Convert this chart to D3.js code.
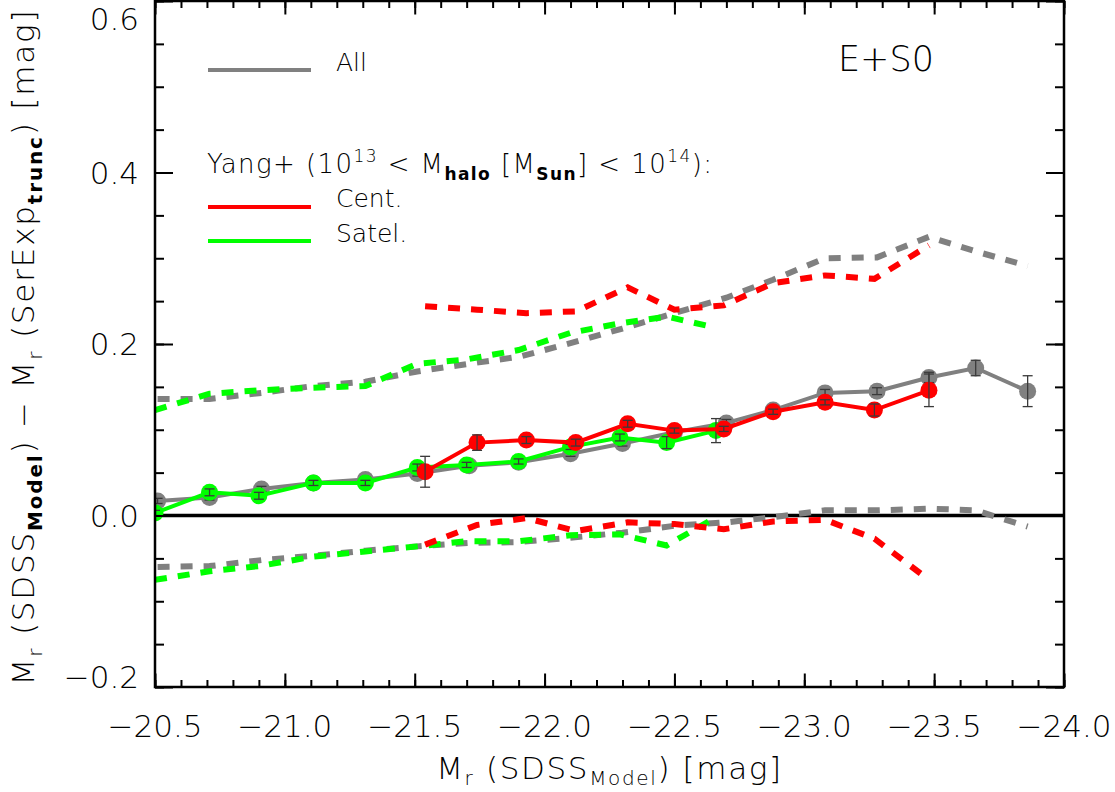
<!DOCTYPE html>
<html>
<head>
<meta charset="utf-8">
<script src="https://cdn.jsdelivr.net/npm/d3@7"></script>
<style>
  body { margin: 0; background: white; }
  text { font-family: "DejaVu Sans", sans-serif; font-weight: 200; fill: black; }
</style>
</head>
<body>
<div id="container"></div>
<script>
let w = 1115;
let h = 792;

// DATA
// All
let allMag = [-20.51, -20.71, -20.91, -21.11, -21.31, -21.51, -21.71, -21.90, -22.10, -22.30, -22.50, -22.70, -22.88, -23.08, -23.28, -23.48, -23.66, -23.86];
let allMed = [0.017, 0.021, 0.031, 0.038, 0.042, 0.049, 0.058, 0.062, 0.072, 0.084, 0.097, 0.108, 0.123, 0.143, 0.145, 0.161, 0.172, 0.145];
let allErr = [0.003, 0.003, 0.003, 0.003, 0.003, 0.003, 0.003, 0.003, 0.003, 0.003, 0.004, 0.004, 0.004, 0.004, 0.004, 0.006, 0.009, 0.018];
let allHi  = [0.136, 0.136, 0.143, 0.151, 0.156, 0.168, 0.177, 0.185, 0.201, 0.218, 0.236, 0.254, 0.275, 0.300, 0.301, 0.325, 0.308, 0.291];
let allLo  = [-0.060, -0.059, -0.052, -0.047, -0.041, -0.036, -0.032, -0.031, -0.026, -0.020, -0.012, -0.008, -0.002, 0.006, 0.006, 0.008, 0.006, -0.013];

// Yang+ centrals
let cenMag = [-21.54, -21.74, -21.93, -22.12, -22.32, -22.50, -22.69, -22.88, -23.08, -23.27, -23.48];
let cenMed = [0.051, 0.085, 0.088, 0.085, 0.107, 0.099, 0.101, 0.121, 0.132, 0.123, 0.146];
let cenErr = [0.018, 0.009, 0.004, 0.004, 0.004, 0.003, 0.003, 0.003, 0.003, 0.007, 0.019];
let cenHi  = [0.244, 0.240, 0.236, 0.238, 0.266, 0.240, 0.245, 0.271, 0.280, 0.276, 0.315];
let cenLo  = [-0.034, -0.011, -0.003, -0.018, -0.008, -0.010, -0.016, -0.007, -0.005, -0.027, -0.075];

// Yang+ satellites
let satMag = [-20.50, -20.71, -20.90, -21.11, -21.31, -21.51, -21.70, -21.90, -22.10, -22.29, -22.47, -22.66];
let satMed = [0.003, 0.027, 0.023, 0.038, 0.038, 0.056, 0.059, 0.063, 0.080, 0.091, 0.085, 0.099];
let satErr = [0.003, 0.004, 0.004, 0.003, 0.003, 0.004, 0.003, 0.003, 0.003, 0.004, 0.007, 0.014];
let satHi  = [0.123, 0.142, 0.146, 0.149, 0.151, 0.177, 0.182, 0.193, 0.213, 0.224, 0.232, 0.219];
let satLo  = [-0.075, -0.065, -0.059, -0.048, -0.042, -0.036, -0.030, -0.030, -0.023, -0.022, -0.035, -0.002];

// TICKS
let xMajor = [-20.5, -21.0, -21.5, -22.0, -22.5, -23.0, -23.5, -24.0];
let yMajor = [-0.2, 0.0, 0.2, 0.4, 0.6];
let xMinor = d3.range(36).map(i => -20.5 - i * 0.1);
let yMinor = d3.range(17).map(i => -0.2 + i * 0.05);

// plot box
let pLeft = 155, pRight = 1064, pTop = 1, pBottom = 687;

let viz = d3.select("#container").append("svg")
    .attr("width", w)
    .attr("height", h)
    .style("background-color", "white");

let xScale = d3.scaleLinear().domain([-20.5, -24.0]).range([pLeft, pRight]);
let yScale = d3.scaleLinear().domain([-0.2, 0.6]).range([pBottom, pTop]);

viz.append("clipPath").attr("id", "clip")
  .append("rect")
    .attr("x", pLeft).attr("y", pTop)
    .attr("width", pRight - pLeft).attr("height", pBottom - pTop);

let plot = viz.append("g").attr("clip-path", "url(#clip)");

// zero line
plot.append("line")
  .attr("x1", pLeft).attr("x2", pRight)
  .attr("y1", yScale(0)).attr("y2", yScale(0))
  .attr("stroke", "black").attr("stroke-width", 3.5);

function drawSeries(mag, med, err, hi, lo, color) {
  let pts = mag.map(function(m, i){
    return { m: m, v: med[i], e: err[i], hi: hi[i], lo: lo[i] };
  });

  let band = ["hi", "lo"];
  band.forEach(function(key){
    plot.append("path")
      .datum(pts)
      .attr("d", d3.line().x(d => xScale(d.m)).y(d => yScale(d[key])))
      .attr("fill", "none")
      .attr("stroke", color)
      .attr("stroke-width", 6)
      .attr("stroke-dasharray", "12,11");
  });

  plot.append("path")
    .datum(pts)
    .attr("d", d3.line().x(d => xScale(d.m)).y(d => yScale(d.v)))
    .attr("fill", "none")
    .attr("stroke", color)
    .attr("stroke-width", 4);

  plot.selectAll(null).data(pts).enter()
    .append("circle")
      .attr("cx", d => xScale(d.m))
      .attr("cy", d => yScale(d.v))
      .attr("r", 8.5)
      .attr("fill", color);

  // error bars
  let eb = plot.selectAll(null).data(pts).enter().append("g")
    .attr("stroke", "#3a3a3a").attr("stroke-width", 1.3);
  eb.append("line")
    .attr("x1", d => xScale(d.m)).attr("x2", d => xScale(d.m))
    .attr("y1", d => yScale(d.v - d.e)).attr("y2", d => yScale(d.v + d.e));
  eb.append("line")
    .attr("x1", d => xScale(d.m) - 5).attr("x2", d => xScale(d.m) + 5)
    .attr("y1", d => yScale(d.v - d.e)).attr("y2", d => yScale(d.v - d.e));
  eb.append("line")
    .attr("x1", d => xScale(d.m) - 5).attr("x2", d => xScale(d.m) + 5)
    .attr("y1", d => yScale(d.v + d.e)).attr("y2", d => yScale(d.v + d.e));
}

drawSeries(allMag, allMed, allErr, allHi, allLo, "#808080");
drawSeries(satMag, satMed, satErr, satHi, satLo, "#00ff00");
drawSeries(cenMag, cenMed, cenErr, cenHi, cenLo, "#ff0000");

// FRAME + TICKS (inward on all sides)
function ticks(axisFn, scale, values, size, transform) {
  viz.append("g").attr("transform", transform)
    .call(axisFn(scale).tickValues(values).tickSize(size).tickFormat(""))
    .call(g => g.select(".domain").remove())
    .selectAll("line").attr("stroke", "black").attr("stroke-width", 2);
}
ticks(d3.axisBottom, xScale, xMajor, -13.5, `translate(0,${pBottom})`);
ticks(d3.axisBottom, xScale, xMinor, -7, `translate(0,${pBottom})`);
ticks(d3.axisTop, xScale, xMajor, -13.5, `translate(0,${pTop})`);
ticks(d3.axisTop, xScale, xMinor, -7, `translate(0,${pTop})`);
ticks(d3.axisLeft, yScale, yMajor, -18, `translate(${pLeft},0)`);
ticks(d3.axisLeft, yScale, yMinor, -9, `translate(${pLeft},0)`);
ticks(d3.axisRight, yScale, yMajor, -18, `translate(${pRight},0)`);
ticks(d3.axisRight, yScale, yMinor, -9, `translate(${pRight},0)`);

viz.append("rect")
  .attr("x", pLeft).attr("y", pTop)
  .attr("width", pRight - pLeft).attr("height", pBottom - pTop)
  .attr("fill", "none").attr("stroke", "black").attr("stroke-width", 2.5);

// tick labels
let fmt = d3.format(".1f");
viz.selectAll(".xlab").data(xMajor).enter()
  .append("text")
    .attr("class", "xlab")
    .attr("x", d => xScale(d))
    .attr("y", 737)
    .attr("text-anchor", "middle")
    .attr("font-size", 31)
    .text(d => fmt(d));

viz.selectAll(".ylab").data(yMajor).enter()
  .append("text")
    .attr("class", "ylab")
    .attr("x", 139)
    .attr("y", d => Math.min(Math.max(yScale(d) + 11, 30), 688))
    .attr("text-anchor", "end")
    .attr("font-size", 31)
    .text(d => fmt(d));

// stretch text to the width it has in the figure
function fitWidth(sel, target) {
  let len = sel.node().getComputedTextLength();
  let n = sel.text().length;
  sel.attr("letter-spacing", (target - len) / (n - 1));
}

function richText(g, parts, size) {
  parts.forEach(function(p){
    g.append("tspan")
      .attr("font-size", p.s || size)
      .attr("font-weight", p.b ? 600 : null)
      .attr("dy", p.dy || 0)
      .text(p.t);
  });
}

// x title
let xt = viz.append("text")
  .attr("x", (pLeft + pRight) / 2)
  .attr("y", 779)
  .attr("text-anchor", "middle");
richText(xt, [
  { t: "M" }, { t: "r", s: 20, dy: 6 }, { t: " (SDSS", dy: -6 },
  { t: "Model", s: 20, dy: 6 }, { t: ") [mag]", dy: -6 }
], 31);
fitWidth(xt, 345);

// y title
let yt = viz.append("text")
  .attr("transform", `translate(34,${(pTop + pBottom) / 2 + 3}) rotate(-90)`)
  .attr("text-anchor", "middle");
richText(yt, [
  { t: "M" }, { t: "r", s: 20, dy: 8 }, { t: " (SDSS", dy: -8 },
  { t: "Model", s: 20, b: true, dy: 8 }, { t: ") \u2212 M", dy: -8 },
  { t: "r", s: 20, dy: 8 }, { t: " (SerExp", dy: -8 },
  { t: "trunc", s: 20, b: true, dy: 8 }, { t: ") [mag]", dy: -8 }
], 31);
fitWidth(yt, 675);

// LEGEND
viz.append("line")
  .attr("x1", 208).attr("x2", 311).attr("y1", 70).attr("y2", 70)
  .attr("stroke", "#808080").attr("stroke-width", 4);
viz.append("text").attr("x", 336).attr("y", 71).attr("font-size", 25).text("All");

viz.append("text").attr("x", 838).attr("y", 71).attr("font-size", 35).text("E+S0");

let lt = viz.append("text").attr("x", 207).attr("y", 173);
richText(lt, [
  { t: "Yang+ (10" }, { t: "13", s: 17, dy: -11 }, { t: " < M", dy: 11 },
  { t: "halo", s: 17, b: true, dy: 7 }, { t: " [M", dy: -7 },
  { t: "Sun", s: 17, b: true, dy: 7 }, { t: "] < 10", dy: -7 },
  { t: "14", s: 17, dy: -11 }, { t: "):", dy: 11 }
], 26);
fitWidth(lt, 505);

viz.append("line")
  .attr("x1", 208).attr("x2", 311).attr("y1", 207).attr("y2", 207)
  .attr("stroke", "#ff0000").attr("stroke-width", 4);
viz.append("text").attr("x", 336).attr("y", 207).attr("font-size", 25).text("Cent.");

viz.append("line")
  .attr("x1", 208).attr("x2", 311).attr("y1", 241).attr("y2", 241)
  .attr("stroke", "#00ff00").attr("stroke-width", 4);
viz.append("text").attr("x", 336).attr("y", 241.5).attr("font-size", 25).text("Satel.");
</script>
</body>
</html>
